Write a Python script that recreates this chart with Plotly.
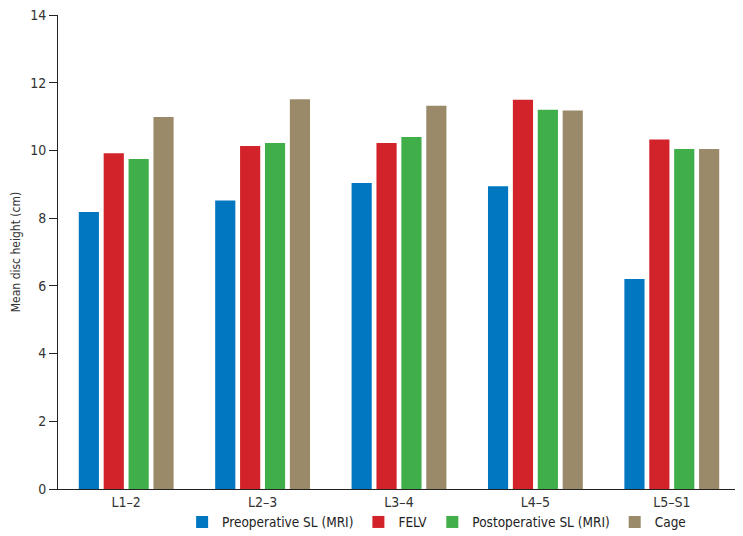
import plotly.graph_objects as go

# Mittlere Bandscheibenhöhe je Segment
segments = ["L1–2", "L2–3", "L3–4", "L4–5", "L5–S1"]
preop_sl = [8.18, 8.52, 9.04, 8.94, 6.20]
felv = [9.92, 10.13, 10.22, 11.50, 10.32]
postop_sl = [9.75, 10.22, 10.40, 11.20, 10.04]
cage = [10.99, 11.51, 11.32, 11.18, 10.04]

y_ticks = [0, 2, 4, 6, 8, 10, 12, 14]

series = [
    ("Preoperative SL (MRI)", preop_sl, "#0077c0"),
    ("FELV", felv, "#d2232a"),
    ("Postoperative SL (MRI)", postop_sl, "#40ae49"),
    ("Cage", cage, "#9a8a6a"),
]

FONT = "DejaVu Sans Condensed, Roboto, sans-serif"

fig = go.Figure()
for name, vals, color in series:
    fig.add_trace(
        go.Bar(
            x=segments,
            y=vals,
            name=name,
            marker=dict(color=color, line=dict(width=0)),
        )
    )

# Seite hat 8px Body-Rand, daher Figur etwas kleiner
fig.update_layout(
    width=735,
    height=528,
    barmode="group",
    bargap=0.27,
    bargroupgap=0.19,
    plot_bgcolor="white",
    paper_bgcolor="white",
    font=dict(family=FONT, size=14, color="#333333"),
    margin=dict(l=50, r=3, t=7, b=47, autoexpand=False),
    showlegend=True,
    legend=dict(
        orientation="h",
        x=0.182,
        xanchor="left",
        y=-0.07,
        yanchor="middle",
        bgcolor="rgba(0,0,0,0)",
        font=dict(size=13.5, color="#222222"),
        itemwidth=30,
        tracegroupgap=0,
    ),
    xaxis=dict(
        showline=True,
        linecolor="#222222",
        linewidth=1,
        ticks="",
        showgrid=False,
        automargin=False,
        tickfont=dict(size=14),
    ),
    yaxis=dict(
        range=[0, 14],
        tickvals=y_ticks,
        showline=True,
        linecolor="#222222",
        linewidth=1,
        ticks="outside",
        ticklen=8,
        tickcolor="#222222",
        showgrid=False,
        zeroline=False,
        automargin=False,
        ticklabeloverflow="allow",
        tickfont=dict(size=14),
        title=dict(text="Mean disc height (cm)", font=dict(size=12), standoff=6),
    ),
)

fig.write_html("out.html")
